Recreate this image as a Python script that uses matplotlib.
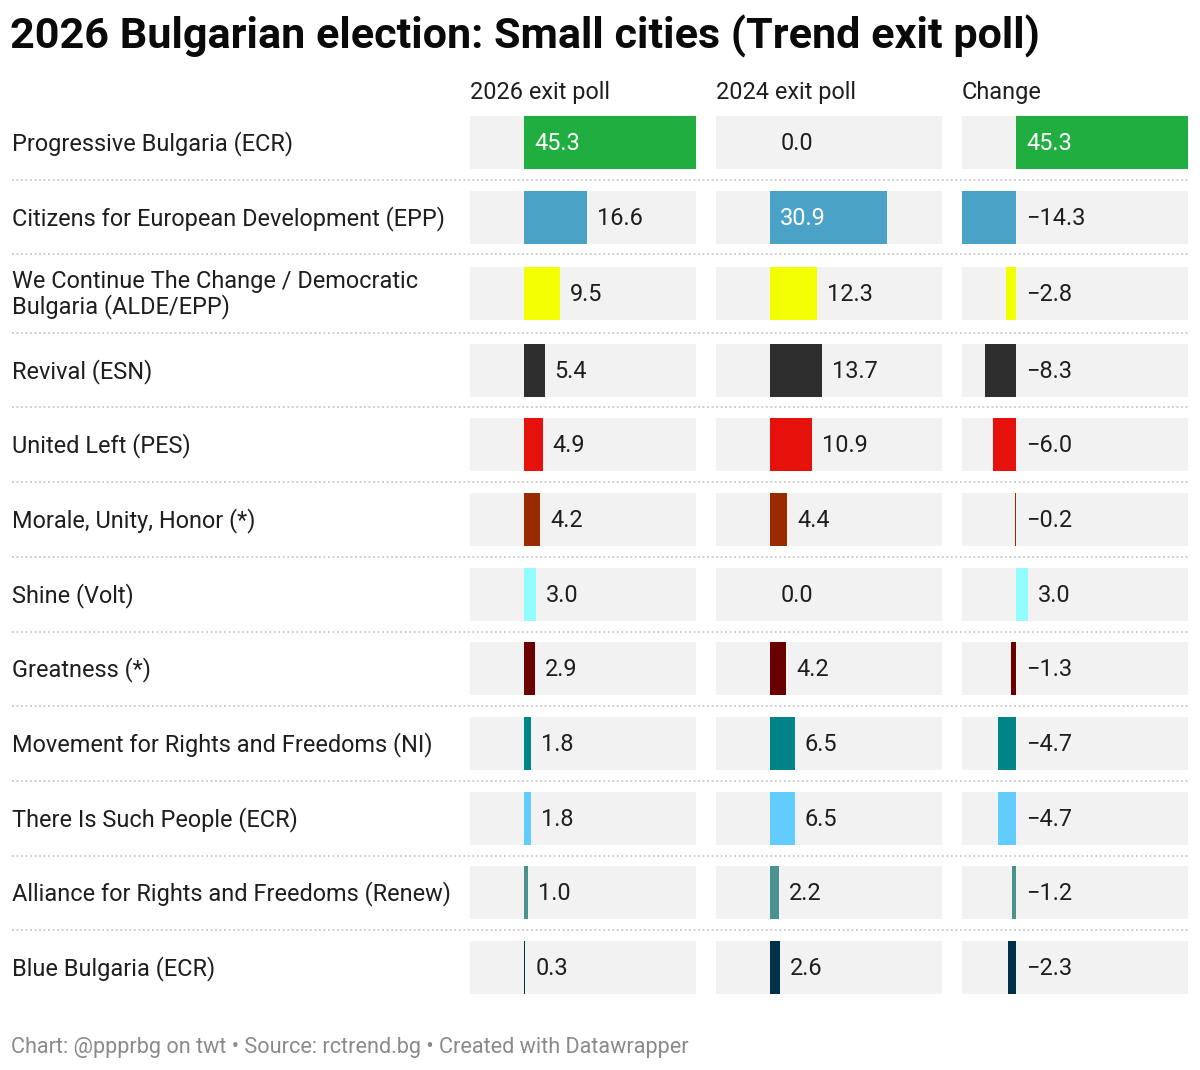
import numpy as np
import matplotlib
matplotlib.use("Agg")
import matplotlib.pyplot as plt

plt.rcParams["font.family"] = ["Roboto", "DejaVu Sans"]

# data
parties = [
    "Progressive Bulgaria (ECR)",
    "Citizens for European Development (EPP)",
    "We Continue The Change / Democratic\nBulgaria (ALDE/EPP)",
    "Revival (ESN)",
    "United Left (PES)",
    "Morale, Unity, Honor (*)",
    "Shine (Volt)",
    "Greatness (*)",
    "Movement for Rights and Freedoms (NI)",
    "There Is Such People (ECR)",
    "Alliance for Rights and Freedoms (Renew)",
    "Blue Bulgaria (ECR)",
]
poll_2026 = [45.3, 16.6, 9.5, 5.4, 4.9, 4.2, 3.0, 2.9, 1.8, 1.8, 1.0, 0.3]
poll_2024 = [0.0, 30.9, 12.3, 13.7, 10.9, 4.4, 0.0, 4.2, 6.5, 6.5, 2.2, 2.6]
change = [45.3, -14.3, -2.8, -8.3, -6.0, -0.2, 3.0, -1.3, -4.7, -4.7, -1.2, -2.3]
colors = ["#20ae40", "#4ba2c7", "#f2ff00", "#2e2e2e", "#e6110a", "#9a2a00",
          "#93fcff", "#6a0000", "#008488", "#62cdfd", "#4a928f", "#00314a"]
headers = ["2026 exit poll", "2024 exit poll", "Change"]

title = "2026 Bulgarian election: Small cities (Trend exit poll)"
footer = "Chart: @ppprbg on twt \u2022 Source: rctrend.bg \u2022 Created with Datawrapper"

# layout in pixels
W, H = 1200, 1070
row_h = np.array([78.3 if "\n" in p else 74.7 for p in parties])
row_top0 = 105.0
bounds = row_top0 + np.concatenate([[0], np.cumsum(row_h)])
centers = (bounds[:-1] + bounds[1:]) / 2
bar_h = 53
panel_x = [470, 716, 962]
panel_w = 226

all_vals = poll_2026 + poll_2024 + change
xmin, xmax = min(all_vals), max(all_vals)

fig = plt.figure(figsize=(W / 100, H / 100), dpi=100)
base = fig.add_axes([0, 0, 1, 1])
base.set_xlim(0, W)
base.set_ylim(H, 0)
base.axis("off")

txt = "#1e1e1e"
fs = 16.9

base.text(10, 36, title, fontsize=31.1, fontweight="bold", color="#0a0a0a",
          va="center", ha="left")
base.text(11, 1047, footer, fontsize=15.6, color="#8a8a8a", va="center", ha="left")

for i, p in enumerate(parties):
    base.text(12, centers[i] + 1, p, fontsize=fs, color=txt, va="center", ha="left",
              linespacing=1.08)
for b in bounds[1:-1]:
    base.plot([12, 1188], [b, b], color="#c8c8c8", lw=1.3, ls=(0, (1, 1.5)))

for j, (vals, hdr) in enumerate(zip([poll_2026, poll_2024, change], headers)):
    base.text(panel_x[j], 92, hdr, fontsize=fs, color=txt, va="center", ha="left")
    ax = fig.add_axes([panel_x[j] / W, 0, panel_w / W, 1])
    ax.set_xlim(xmin, xmax)
    ax.set_ylim(H, 0)
    ax.axis("off")
    ax.barh(centers, xmax - xmin, left=xmin, height=bar_h, color="#f2f2f2")
    ax.barh(centers, vals, height=bar_h, color=colors)
    px = panel_w / (xmax - xmin)
    for i, v in enumerate(vals):
        lab = f"{v:.1f}".replace("-", "\u2212")
        if v > 0.5 * xmax:
            ax.text(10 / px, centers[i] + 1, lab, fontsize=fs, color="white",
                    va="center", ha="left")
        else:
            ax.text(max(v, 0) + 10 / px, centers[i] + 1, lab, fontsize=fs, color=txt,
                    va="center", ha="left")

fig.savefig("out.png", dpi=100)
